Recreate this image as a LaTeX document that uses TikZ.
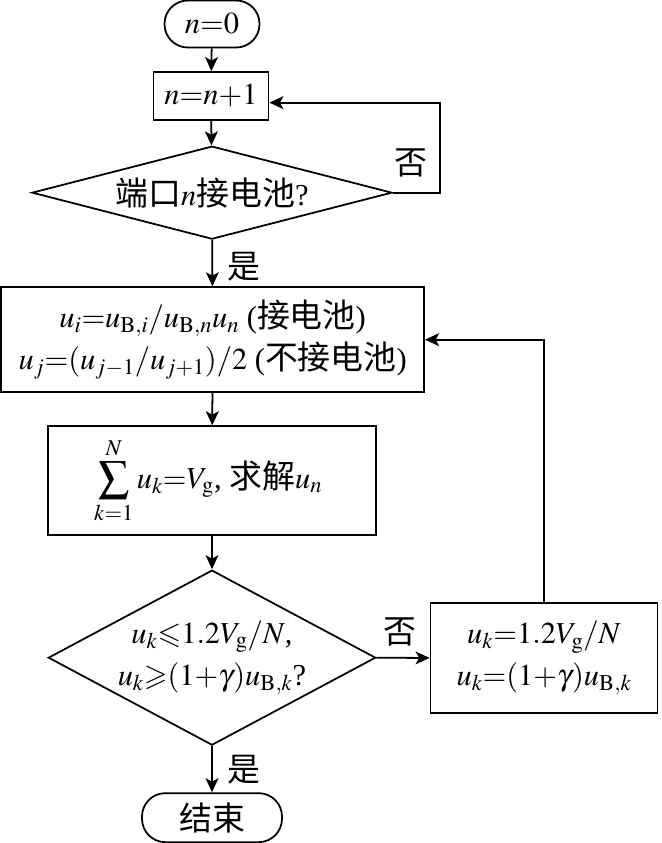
\documentclass[tikz,border=0pt]{standalone}
\usepackage{amsmath}
\usepackage{amssymb}
\usepackage{mathptmx}
\usepackage{fontspec}
\setmainfont{Liberation Serif}
\newfontfamily\cjk[Scale=1.08]{Noto Sans CJK SC}
\usetikzlibrary{arrows.meta,shapes.geometric}

\begin{document}
\begin{tikzpicture}[
      font=\fontsize{26}{36}\selectfont,
      line width=1.5pt,
      proc/.style={draw, rectangle, align=center, inner sep=0pt},
      term/.style={draw, rectangle, rounded corners=0.7cm, align=center, inner sep=0pt},
      decide/.style={draw, diamond, align=center, inner sep=0pt},
      arr/.style={-{Stealth[length=12pt,width=11pt,inset=3pt]}},
      lbl/.style={inner sep=0pt}
    ]
      \useasboundingbox (0,0) rectangle (19.83,-25.29);

      % Start and port loop
      \node[term, minimum width=2.85cm, minimum height=1.41cm] (start) at (6.36,-0.72) {$n{=}0$};
      \node[proc, minimum width=3.45cm, minimum height=1.44cm] (inc) at (6.33,-2.88) {$n{=}n{+}1$};
      \node[decide, aspect=3.87, minimum width=10.8cm, minimum height=2.79cm] (port) at (6.36,-5.78) {{\cjk 端口}$n${\cjk 接电池}?};

      % Voltage assignment
      \node[proc, minimum width=12.69cm, minimum height=3.15cm] (assign) at (6.38,-10.19) {
        $u_i{=}u_{\mathrm{B},i}/u_{\mathrm{B},n}u_n$ ({\cjk 接电池})\\
        $u_j{=}(u_{j-1}/u_{j+1})/2$ ({\cjk 不接电池})
      };
      \node[proc, minimum width=9.84cm, minimum height=3.27cm] (solve) at (6.36,-14.42) {
        $\displaystyle\sum_{k{=}1}^{N}u_k{=}V_\mathrm{g}$, {\cjk 求解}$u_n$
      };

      % Limit check
      \node[decide, aspect=1.87, minimum width=9.81cm, minimum height=5.25cm] (check) at (6.36,-19.73) {
        $u_k{\leqslant}1.2V_\mathrm{g}/N$,\\
        $u_k{\geqslant}(1{+}\gamma)u_{\mathrm{B},k}$?
      };
      \node[proc, minimum width=6.81cm, minimum height=3.3cm] (clamp) at (16.32,-19.74) {
        $u_k{=}1.2V_\mathrm{g}/N$\\
        $u_k{=}(1{+}\gamma)u_{\mathrm{B},k}$
      };
      \node[term, minimum width=4.2cm, minimum height=1.47cm] (finish) at (6.36,-24.53) {{\cjk 结束}};

      % Labels
      \node[lbl] (no1) at (12.33,-4.89) {\cjk 否};
      \node[lbl] (yes1) at (7.32,-8.01) {\cjk 是};
      \node[lbl] (no2) at (12.0,-18.96) {\cjk 否};
      \node[lbl] (yes2) at (7.32,-23.1) {\cjk 是};

      % Connectors
      \draw[arr] (start) -- (inc);
      \draw[arr] (inc) -- (port);
      \draw[arr] (port.east) -- ++(1.41,0) |- ([yshift=-0.2cm]inc.east);
      \draw[arr] (port) -- (assign);
      \draw[arr] (assign) -- (solve);
      \draw[arr] (solve) -- (check);
      \draw[arr] (check) -- (clamp);
      \draw[arr] (clamp.north) |- (assign.east);
      \draw[arr] (check) -- (finish);
    \end{tikzpicture}
\end{document}
